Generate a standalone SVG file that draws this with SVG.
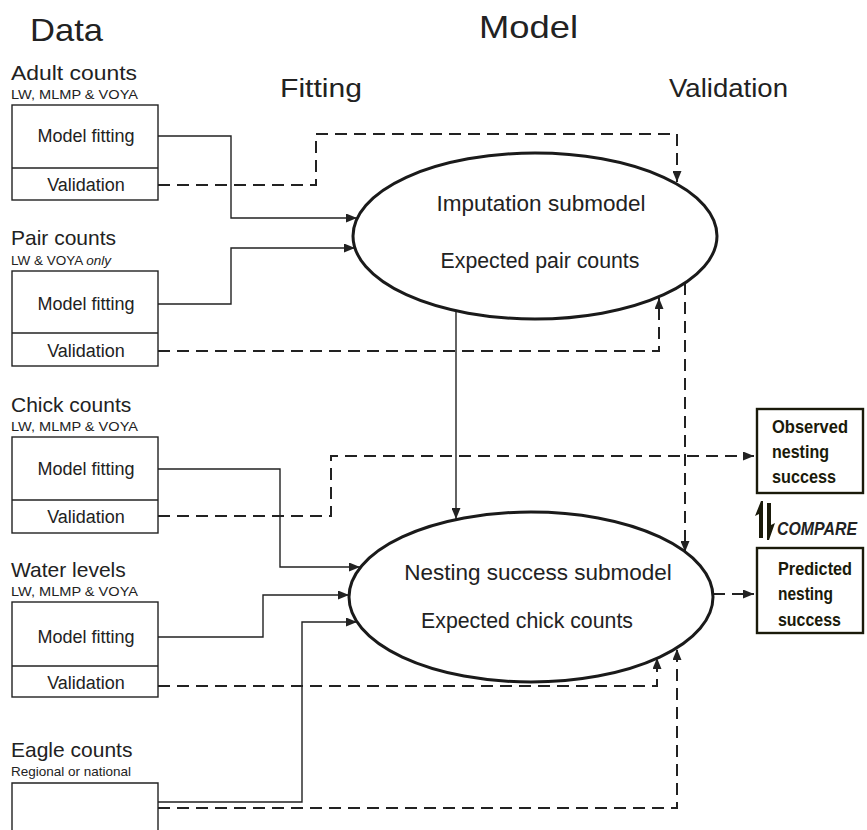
<svg xmlns="http://www.w3.org/2000/svg" width="867" height="830" viewBox="0 0 867 830">
<defs>
<marker id="ah" markerUnits="userSpaceOnUse" markerWidth="11" markerHeight="9" refX="11" refY="4.5" orient="auto">
<path d="M0,0 L11,4.5 L0,9 z" fill="#222"/>
</marker>
<style>
text{font-family:"Liberation Sans",Arial,sans-serif;fill:#222}
.hdr{font-size:32px}
.col{font-size:26px}
.src{font-size:21px}
.sub{font-size:13.5px}
.box{fill:#fff;stroke:#222;stroke-width:1.4}
.bt{font-size:18px;text-anchor:middle}
.ell{fill:#fff;stroke:#1a1a1a;stroke-width:3}
.et{font-size:22.5px;text-anchor:middle}
.es{font-size:21.3px;text-anchor:middle}
.sol{fill:none;stroke:#222;stroke-width:1.4}
.dsh{fill:none;stroke:#222;stroke-width:2;stroke-dasharray:12 7}
.res{fill:#fff;stroke:#1a1a0a;stroke-width:2.4}
.rt{font-size:19px;font-weight:bold;fill:#1a1a0a}
</style>
</defs>

<g id="headers">
<text class="hdr" x="30" y="41" textLength="73" lengthAdjust="spacingAndGlyphs">Data</text>
<text class="hdr" x="479" y="38" textLength="99" lengthAdjust="spacingAndGlyphs">Model</text>
<text class="col" x="280" y="97" textLength="82" lengthAdjust="spacingAndGlyphs">Fitting</text>
<text class="col" x="669" y="97" textLength="119" lengthAdjust="spacingAndGlyphs">Validation</text>
</g>

<g id="connectors">
<path class="sol" d="M158,136 H231 V218 H357" marker-end="url(#ah)"/>
<path class="dsh" d="M158,185 H316 V134 H677 V182" marker-end="url(#ah)"/>
<path class="sol" d="M158,304 H231 V248 H355" marker-end="url(#ah)"/>
<path class="dsh" d="M158,351 H659 V298" marker-end="url(#ah)"/>
<path class="sol" d="M456,310 V519" marker-end="url(#ah)"/>
<path class="dsh" d="M685,283 V552" marker-end="url(#ah)"/>
<path class="sol" d="M158,469 H280 V567 H360" marker-end="url(#ah)"/>
<path class="dsh" d="M158,516 H331 V456 H754" marker-end="url(#ah)"/>
<path class="sol" d="M158,637 H263 V595 H349" marker-end="url(#ah)"/>
<path class="dsh" d="M158,686 H657 V658" marker-end="url(#ah)"/>
<path class="sol" d="M158,802 H302 V622 H357" marker-end="url(#ah)"/>
<path class="dsh" d="M158,808 H677 V649" marker-end="url(#ah)"/>
<path class="dsh" d="M713,594 H754" marker-end="url(#ah)"/>
</g>

<g id="adult">
<text class="src" x="11" y="80" textLength="126" lengthAdjust="spacingAndGlyphs">Adult counts</text>
<text class="sub" x="11" y="99" textLength="127" lengthAdjust="spacingAndGlyphs">LW, MLMP &amp; VOYA</text>
<rect class="box" x="12" y="105" width="146" height="95"/>
<line class="box" x1="12" y1="168" x2="158" y2="168"/>
<text class="bt" x="86" y="142">Model fitting</text>
<text class="bt" x="86" y="191">Validation</text>
</g>

<g id="pair">
<text class="src" x="11" y="245">Pair counts</text>
<text class="sub" x="11" y="265">LW &amp; VOYA <tspan font-style="italic">only</tspan></text>
<rect class="box" x="12" y="271" width="146" height="95"/>
<line class="box" x1="12" y1="333" x2="158" y2="333"/>
<text class="bt" x="86" y="310">Model fitting</text>
<text class="bt" x="86" y="357">Validation</text>
</g>

<g id="chick">
<text class="src" x="11" y="412">Chick counts</text>
<text class="sub" x="11" y="431" textLength="127" lengthAdjust="spacingAndGlyphs">LW, MLMP &amp; VOYA</text>
<rect class="box" x="12" y="437" width="146" height="96"/>
<line class="box" x1="12" y1="500" x2="158" y2="500"/>
<text class="bt" x="86" y="475">Model fitting</text>
<text class="bt" x="86" y="523">Validation</text>
</g>

<g id="water">
<text class="src" x="11" y="577">Water levels</text>
<text class="sub" x="11" y="596" textLength="127" lengthAdjust="spacingAndGlyphs">LW, MLMP &amp; VOYA</text>
<rect class="box" x="12" y="602" width="146" height="95"/>
<line class="box" x1="12" y1="666" x2="158" y2="666"/>
<text class="bt" x="86" y="643">Model fitting</text>
<text class="bt" x="86" y="689">Validation</text>
</g>

<g id="eagle">
<text class="src" x="11" y="757">Eagle counts</text>
<text class="sub" x="11" y="776">Regional or national</text>
<path class="box" d="M12,831 V783 H158 V831"/>
</g>

<g id="imputation">
<ellipse class="ell" cx="535" cy="236" rx="182" ry="83"/>
<text class="et" x="541" y="211">Imputation submodel</text>
<text class="es" x="540" y="268">Expected pair counts</text>
</g>

<g id="nesting">
<ellipse class="ell" cx="531" cy="597" rx="182" ry="85"/>
<text class="et" x="538" y="580">Nesting success submodel</text>
<text class="es" x="527" y="628">Expected chick counts</text>
</g>

<g id="observed">
<rect class="res" x="757" y="409" width="106" height="84"/>
<text class="rt" x="772" y="433" textLength="76" lengthAdjust="spacingAndGlyphs">Observed</text>
<text class="rt" x="772" y="458" textLength="57" lengthAdjust="spacingAndGlyphs">nesting</text>
<text class="rt" x="772" y="483" textLength="64" lengthAdjust="spacingAndGlyphs">success</text>
</g>

<g id="compare">
<polygon points="759,538 759,514 755,516 761,501 763,501 763,538" fill="#1a1a0a"/>
<polygon points="767,503 771,503 771,525 775,523 769,540 767,540" fill="#1a1a0a"/>
<text x="777" y="535" font-size="18" font-weight="bold" font-style="italic" fill="#1a1a0a" textLength="80" lengthAdjust="spacingAndGlyphs">COMPARE</text>
</g>

<g id="predicted">
<rect class="res" x="757" y="548" width="106" height="85"/>
<text class="rt" x="778" y="575" textLength="74" lengthAdjust="spacingAndGlyphs">Predicted</text>
<text class="rt" x="778" y="600" textLength="55" lengthAdjust="spacingAndGlyphs">nesting</text>
<text class="rt" x="778" y="626" textLength="63" lengthAdjust="spacingAndGlyphs">success</text>
</g>
</svg>
